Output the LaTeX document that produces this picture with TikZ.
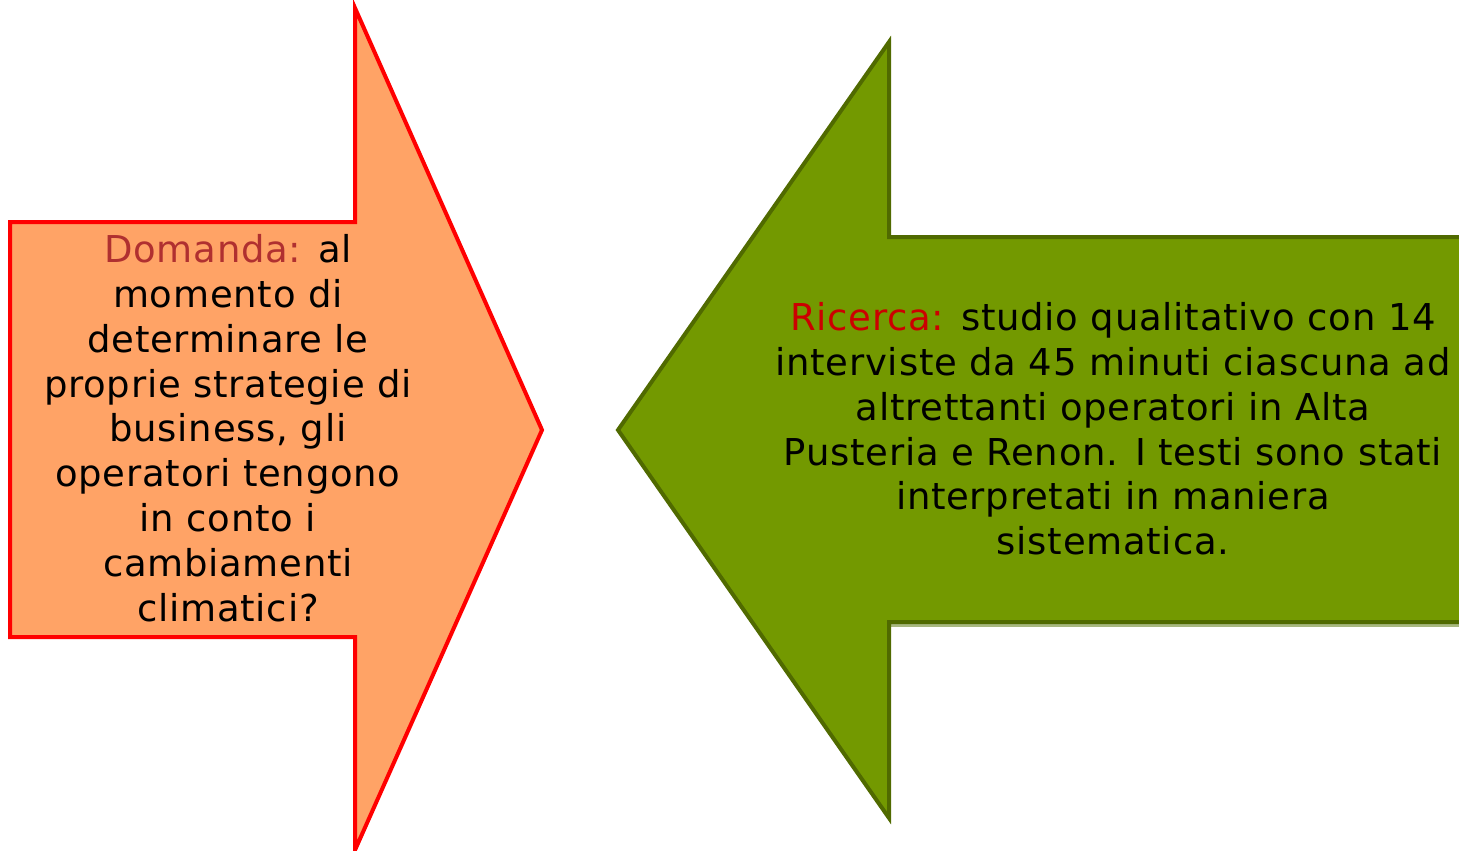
\documentclass[tikz,border=0pt]{standalone}
\usepackage{fontspec}
\setmainfont{DejaVu Sans}[LetterSpace=2]
\definecolor{orfill}{RGB}{255,163,102}
\definecolor{orline}{RGB}{255,0,0}
\definecolor{domred}{RGB}{176,48,48}
\definecolor{ricred}{RGB}{204,0,0}
\definecolor{grfill}{RGB}{115,153,0}
\definecolor{grline}{RGB}{80,106,0}
\definecolor{grshadow}{RGB}{168,184,128}
\tikzset{
  orarrow/.style={fill=orfill, draw=orline, line width=4pt, line join=miter},
  grarrow/.style={fill=grfill, draw=grline, line width=4pt, line join=miter},
  grshade/.style={draw=grshadow, line width=3pt},
  txt/.style={align=center, inner sep=0pt, font=\fontsize{37}{44.8}\selectfont}
}
\begin{document}
\begin{tikzpicture}[x=1pt,y=-1pt]
\useasboundingbox (0,0) rectangle (1459,851);
\clip (0,0) rectangle (1459,851);
% left arrow
\draw[orarrow] (10,222) -- (355,222) -- (355,8) -- (542,430) -- (355,850) -- (355,637) -- (10,637) -- cycle;
% right arrow shadow lines
\draw[grshade] (889,240) -- (1480,240);
\draw[grshade] (889,625) -- (1480,625);
% right arrow
\draw[grarrow] (1480,237) -- (889,237) -- (889,42) -- (618,430) -- (889,818) -- (889,622) -- (1480,622) -- cycle;
% texts
\node[txt] (domanda) at (228,428) {{\color{domred}Domanda:} al\\momento di\\determinare le\\proprie strategie di\\business, gli\\operatori tengono\\in conto i\\cambiamenti\\climatici?};
\node[txt] (ricerca) at (1113,429) {{\color{ricred}Ricerca:} studio qualitativo con 14\\interviste da 45 minuti ciascuna ad\\altrettanti operatori in Alta\\Pusteria e Renon. I testi sono stati\\interpretati in maniera\\sistematica.};
\end{tikzpicture}
\end{document}
